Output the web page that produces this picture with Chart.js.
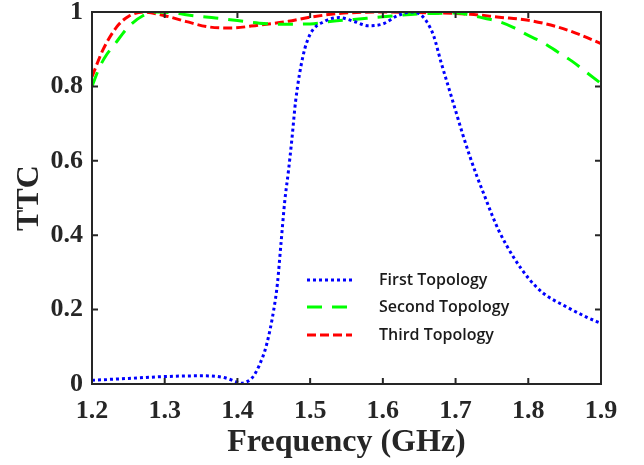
<!DOCTYPE html>
<html lang="en">
<head>
    <meta charset="UTF-8">
    <title>TTC vs Frequency</title>
    <style>
        html, body { margin: 0; padding: 0; background: #fff; }
        #wrap { width: 644px; height: 465px; }
    </style>
</head>
<body>
<div id="wrap">
    <canvas id="ttcChart" width="644" height="465"></canvas>
</div>

<script src="https://cdn.jsdelivr.net/npm/chart.js"></script>
<script>
    // First topology (blue dotted)
    const firstFreq = [1.20, 1.25, 1.30, 1.35, 1.38, 1.40, 1.405, 1.41, 1.42, 1.43, 1.44, 1.45, 1.455, 1.46, 1.465, 1.47, 1.475, 1.48, 1.49, 1.50, 1.52, 1.54, 1.56, 1.58, 1.60, 1.62, 1.64, 1.65, 1.66, 1.67, 1.68, 1.69, 1.70, 1.71, 1.72, 1.73, 1.74, 1.75, 1.76, 1.78, 1.80, 1.82, 1.85, 1.88, 1.90];
    const firstTTC  = [0.010, 0.015, 0.020, 0.022, 0.018, 0.005, 0.002, 0.004, 0.016, 0.050, 0.105, 0.20, 0.27, 0.38, 0.49, 0.57, 0.66, 0.76, 0.88, 0.94, 0.975, 0.985, 0.975, 0.963, 0.968, 0.99, 1.0, 0.995, 0.975, 0.935, 0.865, 0.80, 0.735, 0.67, 0.61, 0.555, 0.505, 0.455, 0.41, 0.34, 0.285, 0.245, 0.21, 0.18, 0.163];

    // Second topology (green dashed)
    const secondFreq = [1.20, 1.21, 1.22, 1.23, 1.25, 1.27, 1.29, 1.31, 1.34, 1.37, 1.40, 1.43, 1.46, 1.50, 1.53, 1.56, 1.60, 1.65, 1.70, 1.72, 1.74, 1.76, 1.78, 1.80, 1.82, 1.84, 1.86, 1.88, 1.90];
    const secondTTC  = [0.80, 0.85, 0.885, 0.91, 0.96, 0.99, 1.0, 0.998, 0.99, 0.984, 0.977, 0.97, 0.967, 0.968, 0.975, 0.98, 0.987, 0.995, 0.997, 0.992, 0.983, 0.974, 0.958, 0.937, 0.918, 0.893, 0.868, 0.838, 0.808];

    // Third topology (red dash-dot)
    const thirdFreq = [1.20, 1.215, 1.234, 1.25, 1.27, 1.30, 1.33, 1.36, 1.39, 1.43, 1.47, 1.50, 1.54, 1.60, 1.66, 1.72, 1.76, 1.80, 1.84, 1.87, 1.90];
    const thirdTTC  = [0.826, 0.898, 0.96, 0.988, 1.0, 0.99, 0.974, 0.96, 0.957, 0.965, 0.975, 0.986, 0.996, 1.0, 0.998, 0.994, 0.986, 0.978, 0.96, 0.94, 0.915];

    const seriesNames = ['First Topology', 'Second Topology', 'Third Topology'];
    const xTicks = [1.2, 1.3, 1.4, 1.5, 1.6, 1.7, 1.8, 1.9];
    const yTicks = [0, 0.2, 0.4, 0.6, 0.8, 1];

    const axisColor = '#262626';

    function toPoints(xs, ys) {
        return xs.map((x, i) => ({ x: x, y: ys[i] }));
    }

    // Box round the plot with inward ticks on all four sides
    const boxPlugin = {
        id: 'boxPlugin',
        afterDatasetsDraw(chart) {
            const ctx = chart.ctx;
            const a = chart.chartArea;
            const xs = chart.scales.x;
            const ys = chart.scales.y;
            const len = 6;
            ctx.save();
            ctx.strokeStyle = axisColor;
            ctx.lineWidth = 2;
            ctx.beginPath();
            xTicks.forEach(v => {
                const px = xs.getPixelForValue(v);
                ctx.moveTo(px, a.bottom); ctx.lineTo(px, a.bottom - len);
                ctx.moveTo(px, a.top); ctx.lineTo(px, a.top + len);
            });
            yTicks.forEach(v => {
                const py = ys.getPixelForValue(v);
                ctx.moveTo(a.left, py); ctx.lineTo(a.left + len, py);
                ctx.moveTo(a.right, py); ctx.lineTo(a.right - len, py);
            });
            ctx.stroke();
            ctx.strokeRect(a.left, a.top, a.right - a.left, a.bottom - a.top);
            ctx.restore();
        }
    };

    // Legend drawn inside the plot, lower middle
    const innerLegend = {
        id: 'innerLegend',
        afterDraw(chart) {
            const ctx = chart.ctx;
            const x0 = 307, x1 = 352, tx = 379;
            const rows = [280, 307, 335];
            ctx.save();
            ctx.font = '600 16px "Open Sans"';
            ctx.textBaseline = 'middle';
            chart.data.datasets.forEach((ds, i) => {
                ctx.strokeStyle = ds.borderColor;
                ctx.lineWidth = ds.borderWidth;
                ctx.setLineDash(ds.borderDash);
                ctx.beginPath();
                ctx.moveTo(x0, rows[i]);
                ctx.lineTo(x1, rows[i]);
                ctx.stroke();
                ctx.setLineDash([]);
                ctx.fillStyle = '#1a1a1a';
                ctx.fillText(ds.label, tx, rows[i]);
            });
            ctx.restore();
        }
    };

    const ctx = document.getElementById('ttcChart').getContext('2d');
    const ttcChart = new Chart(ctx, {
        type: 'line',
        data: {
            datasets: [{
                label: seriesNames[0],
                data: toPoints(firstFreq, firstTTC),
                borderColor: '#0000ff',
                borderWidth: 3,
                borderDash: [3, 3],
                pointRadius: 0,
                cubicInterpolationMode: 'monotone'
            }, {
                label: seriesNames[1],
                data: toPoints(secondFreq, secondTTC),
                borderColor: '#00ff00',
                borderWidth: 3,
                borderDash: [15, 10],
                pointRadius: 0,
                cubicInterpolationMode: 'monotone'
            }, {
                label: seriesNames[2],
                data: toPoints(thirdFreq, thirdTTC),
                borderColor: '#ff0000',
                borderWidth: 3,
                borderDash: [9, 4],
                pointRadius: 0,
                cubicInterpolationMode: 'monotone'
            }]
        },
        options: {
            responsive: false,
            animation: false,
            layout: { padding: { top: 12, right: 43, left: 0, bottom: 0 } },
            plugins: {
                legend: { display: false },
                tooltip: { enabled: false }
            },
            scales: {
                x: {
                    type: 'linear',
                    min: 1.2,
                    max: 1.9,
                    afterFit(scale) {
                        scale.height = 81;
                        scale.paddingLeft = 0;
                        scale.paddingRight = 0;
                    },
                    afterBuildTicks(scale) { scale.ticks = xTicks.map(v => ({ value: v })); },
                    grid: { display: false, drawTicks: false },
                    border: { display: false },
                    ticks: {
                        padding: 12,
                        color: axisColor,
                        font: { family: '"Liberation Serif"', size: 26, weight: 'bold' },
                        callback: v => v.toFixed(1)
                    },
                    title: {
                        display: true,
                        text: 'Frequency (GHz)',
                        color: axisColor,
                        padding: { top: 0, bottom: 3 },
                        font: { family: '"Liberation Serif"', size: 32, weight: 'bold' }
                    }
                },
                y: {
                    min: 0,
                    max: 1,
                    afterFit(scale) {
                        scale.width = 92;
                        scale.paddingTop = 0;
                        scale.paddingBottom = 0;
                    },
                    afterBuildTicks(scale) { scale.ticks = yTicks.map(v => ({ value: v })); },
                    grid: { display: false, drawTicks: false },
                    border: { display: false },
                    ticks: {
                        padding: 9,
                        color: axisColor,
                        font: { family: '"Liberation Serif"', size: 26, weight: 'bold' },
                        callback: v => String(v)
                    },
                    title: {
                        display: true,
                        text: 'TTC',
                        color: axisColor,
                        padding: { top: 11, bottom: 0 },
                        font: { family: '"Liberation Serif"', size: 32, weight: 'bold' }
                    }
                }
            }
        },
        plugins: [boxPlugin, innerLegend]
    });
</script>
</body>
</html>
